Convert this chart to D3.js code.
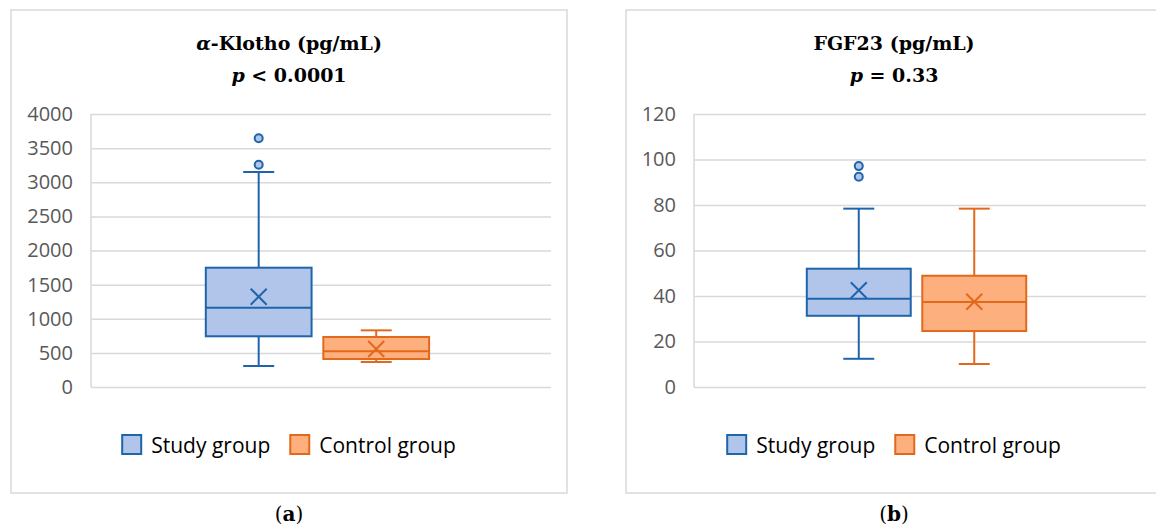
<!DOCTYPE html>
<meta charset="utf-8">
<style>
    body { margin: 0; background: #fff; }
    .tick text { font-family: "Open Sans", sans-serif; font-size: 20px; fill: #595959; }
    .legend text { font-family: "Open Sans", sans-serif; font-size: 21px; fill: #000; }
    .title { font-family: "DejaVu Serif", serif; font-weight: bold; font-size: 19px; fill: #000; }
    .caption { font-family: "DejaVu Serif", serif; font-size: 20px; fill: #000; }
</style>
<body>
<script src="https://d3js.org/d3.v7.min.js"></script>
<script>
    // series names
    var groups = ["Study group", "Control group"];

    // box stats per group: [min, q1, median, q3, max, mean]
    var klothoStats = [
        [308, 743, 1162, 1748, 3150, 1323],
        [366, 410, 523, 733, 830, 557]
    ];
    var klothoOutliers = [[3257, 3644], []];
    var klothoTicks = [0, 500, 1000, 1500, 2000, 2500, 3000, 3500, 4000];

    var fgfStats = [
        [12.4, 31.3, 38.8, 52.0, 78.4, 42.5],
        [10.1, 24.6, 37.4, 48.9, 78.4, 37.5]
    ];
    var fgfOutliers = [[92.4, 97.1], []];
    var fgfTicks = [0, 20, 40, 60, 80, 100, 120];

    var fills = ["#b1c5ea", "#fdb07d"];
    var strokes = ["#1f65ac", "#e2691c"];

    var svg = d3.select("body").append("svg")
        .attr("width", 1156)
        .attr("height", 532);

    // panel layout: frame, plot area, labels
    var panels = [
        {
            frame: [11, 567], plot: [91, 551], stats: klothoStats, outliers: klothoOutliers,
            ticks: klothoTicks, title: ["α", "-Klotho (pg/mL)"], sub: " < 0.0001", caption: "a"
        },
        {
            frame: [626, 1162], plot: [694, 1146], stats: fgfStats, outliers: fgfOutliers,
            ticks: fgfTicks, title: ["", "FGF23 (pg/mL)"], sub: " = 0.33", caption: "b"
        }
    ];

    var plotTop = 114, plotBottom = 387;

    panels.forEach(function (p) {
        var g = svg.append("g");
        var cx = (p.frame[0] + p.frame[1]) / 2;

        // frame
        g.append("rect")
            .attr("x", p.frame[0]).attr("y", 10)
            .attr("width", p.frame[1] - p.frame[0]).attr("height", 483)
            .attr("fill", "none").attr("stroke", "#d9d9d9").attr("stroke-width", 1.5);

        // title
        var t1 = g.append("text").attr("class", "title")
            .attr("x", cx).attr("y", 50).attr("text-anchor", "middle");
        if (p.title[0]) t1.append("tspan").attr("font-style", "italic").text(p.title[0]);
        t1.append("tspan").text(p.title[1]);
        var t2 = g.append("text").attr("class", "title")
            .attr("x", cx).attr("y", 82).attr("text-anchor", "middle");
        t2.append("tspan").attr("font-style", "italic").text("p");
        t2.append("tspan").text(p.sub);

        // scales
        var y = d3.scaleLinear()
            .domain([0, d3.max(p.ticks)])
            .range([plotBottom, plotTop]);
        var x0 = d3.scaleBand()
            .domain(["all"])
            .range(p.plot)
            .paddingOuter(0.53)
            .align(0.485);
        var x1 = d3.scaleBand()
            .domain(groups)
            .range([x0("all"), x0("all") + x0.bandwidth()])
            .paddingInner(0.1);

        // y axis with gridlines
        var axis = g.append("g")
            .attr("transform", "translate(" + p.plot[0] + ",0)")
            .call(d3.axisLeft(y)
                .tickValues(p.ticks)
                .tickFormat(d3.format("d"))
                .tickSize(-(p.plot[1] - p.plot[0]))
                .tickPadding(18));
        axis.select(".domain").attr("stroke", "#d9d9d9").attr("stroke-width", 1.5)
            .attr("d", "M0," + plotTop + "V" + plotBottom);
        axis.selectAll(".tick line").attr("stroke", "#d9d9d9").attr("stroke-width", 1.5);

        // boxes
        var bw = x1.bandwidth();
        var capW = 31;
        p.stats.forEach(function (s, i) {
            var name = groups[i];
            var bx = x1(name), mx = bx + bw / 2;
            var col = strokes[i];
            var b = g.append("g");
            // whiskers
            b.append("line").attr("x1", mx).attr("x2", mx).attr("y1", y(s[0])).attr("y2", y(s[1]))
                .attr("stroke", col).attr("stroke-width", 2);
            b.append("line").attr("x1", mx).attr("x2", mx).attr("y1", y(s[3])).attr("y2", y(s[4]))
                .attr("stroke", col).attr("stroke-width", 2);
            [s[0], s[4]].forEach(function (v) {
                b.append("line").attr("x1", mx - capW / 2).attr("x2", mx + capW / 2)
                    .attr("y1", y(v)).attr("y2", y(v))
                    .attr("stroke", col).attr("stroke-width", 2);
            });
            // box
            b.append("rect")
                .attr("x", bx).attr("width", bw)
                .attr("y", y(s[3])).attr("height", y(s[1]) - y(s[3]))
                .attr("fill", fills[i]).attr("stroke", col).attr("stroke-width", 2);
            // median
            b.append("line").attr("x1", bx).attr("x2", bx + bw)
                .attr("y1", y(s[2])).attr("y2", y(s[2]))
                .attr("stroke", col).attr("stroke-width", 2);
            // mean marker
            var m = 8, my = y(s[5]);
            b.append("path")
                .attr("d", "M" + (mx - m) + "," + (my - m) + "L" + (mx + m) + "," + (my + m) +
                    "M" + (mx - m) + "," + (my + m) + "L" + (mx + m) + "," + (my - m))
                .attr("stroke", col).attr("stroke-width", 2);
            // outliers
            b.selectAll("circle").data(p.outliers[i]).enter().append("circle")
                .attr("cx", mx).attr("cy", function (d) { return y(d); })
                .attr("r", 4)
                .attr("fill", fills[i]).attr("stroke", col).attr("stroke-width", 2);
        });

        // legend
        var leg = g.append("g").attr("class", "legend");
        var items = leg.selectAll("g").data(groups).enter().append("g");
        items.append("rect")
            .attr("width", 19).attr("height", 19).attr("y", 435)
            .attr("fill", function (d, i) { return fills[i]; })
            .attr("stroke", function (d, i) { return strokes[i]; })
            .attr("stroke-width", 2);
        items.append("text")
            .attr("x", 29).attr("y", 453)
            .text(function (d) { return d; });
        var xpos = 0;
        items.each(function () {
            var w = this.getBBox().width;
            d3.select(this).attr("transform", "translate(" + xpos + ",0)");
            xpos += w + 20;
        });
        var total = xpos - 20;
        leg.attr("transform", "translate(" + (cx - total / 2) + ",0)");

        // caption
        var c = g.append("text").attr("class", "caption")
            .attr("x", cx).attr("y", 521).attr("text-anchor", "middle");
        c.append("tspan").text("(");
        c.append("tspan").attr("font-weight", "bold").text(p.caption);
        c.append("tspan").text(")");
    });
</script>
</body>
